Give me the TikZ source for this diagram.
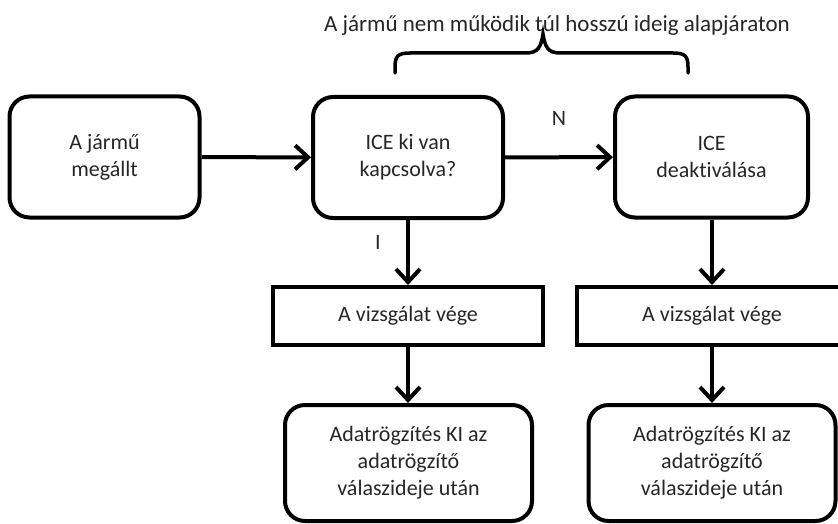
\documentclass[tikz,border=0pt]{standalone}
\usepackage{fontspec}
\setmainfont{Carlito}[Ligatures=NoCommon]
\usetikzlibrary{arrows.meta,positioning}
\tikzset{
  roundbox/.style={draw, line width=4pt, rounded corners=20pt, align=center,
    minimum width=190pt, minimum height=121pt, inner sep=0pt},
  endbox/.style={draw, line width=4pt, minimum width=270pt, minimum height=58pt, inner sep=0pt},
  logbox/.style={roundbox, minimum width=247pt, minimum height=116pt},
  flow/.style={line width=4pt, -{Straight Barb[length=13pt, width=24pt, line width=4pt]}},
}
\begin{document}
\begin{tikzpicture}[x=1pt, y=-1pt, font=\fontsize{22}{27}\selectfont, text=black!85]
\useasboundingbox (0,0) rectangle (838,524);
\clip (0,0) rectangle (838,524);

% upper row
\node[roundbox] (stop) at (104.5,157) {A jármű\\megállt};
\node[roundbox] (check) at (408,157.5) {ICE ki van\\kapcsolva?};
\node[roundbox, minimum width=193pt] (deact) at (711.5,157) {ICE\\deaktiválása};

% end of the check
\node[endbox] (endL) at (408,316) {A vizsgálat vége};
\node[endbox] (endR) at (712,316) {A vizsgálat vége};

% data logging
\node[logbox] (logL) at (408.5,463) {Adatrögzítés KI az\\adatrögzítő\\válaszideje után};
\node[logbox] (logR) at (712,463) {Adatrögzítés KI az\\adatrögzítő\\válaszideje után};

\draw[flow] (stop) -- (check);
\draw[flow] (check) -- node[above=26pt] (no) {N} (deact);
\draw[flow] (check) -- node[left=22pt, pos=0.35] (yes) {I} (endL);
\draw[flow] (deact.south -| endR) -- (endR);
\draw[flow] (endL) -- (logL.north -| endL);
\draw[flow] (endR) -- (logR);

% brace over the idle part
\draw[line width=3.5pt, line cap=round]
  (395,73) -- (395,67) .. controls (395,56) and (398,53) .. (410,53) -- (526,53)
  .. controls (538,53) and (541,47) .. (543,34)
  .. controls (545,47) and (548,53) .. (560,53) -- (673,53)
  .. controls (685,53) and (688,56) .. (688,67) -- (688,73);
\node[font=\fontsize{23}{28}\selectfont] (idle) at (557,25) {A jármű nem működik túl hosszú ideig alapjáraton};
\end{tikzpicture}
\end{document}
